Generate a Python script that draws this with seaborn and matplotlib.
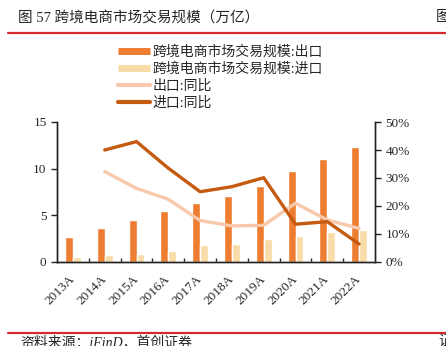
import numpy as np
import pandas as pd
import matplotlib
matplotlib.use("Agg")
import matplotlib.pyplot as plt
from matplotlib.lines import Line2D
from matplotlib.ticker import FixedLocator, FuncFormatter
import seaborn as sns

# ---- data ----
years = ["2013A", "2014A", "2015A", "2016A", "2017A",
         "2018A", "2019A", "2020A", "2021A", "2022A"]
export_scale = [2.7, 3.6, 4.5, 5.5, 6.3, 7.1, 8.1, 9.7, 11.0, 12.3]   # 万亿
import_scale = [0.5, 0.7, 0.9, 1.2, 1.8, 1.9, 2.5, 2.8, 3.2, 3.4]     # 万亿
export_yoy = [np.nan, 32.3, 26.3, 22.4, 14.8, 12.9, 13.1, 21.0, 15.0, 12.0]  # %
import_yoy = [np.nan, 40.0, 43.0, 33.5, 25.1, 26.9, 30.1, 13.5, 14.4, 6.4]   # %

bar_names = ["跨境电商市场交易规模:出口", "跨境电商市场交易规模:进口"]
line_names = ["出口:同比", "进口:同比"]

C_EXP_BAR = "#ED7D31"
C_IMP_BAR = "#F8DCA8"
C_EXP_LINE = "#F8C8AA"
C_IMP_LINE = "#C55A11"
C_RED = "#D42A2F"

bars = pd.DataFrame({
    "year": years * 2,
    "value": export_scale + import_scale,
    "series": [bar_names[0]] * len(years) + [bar_names[1]] * len(years),
})
lines = pd.DataFrame({
    "pos": list(range(len(years))) * 2,
    "value": export_yoy + import_yoy,
    "series": [line_names[0]] * len(years) + [line_names[1]] * len(years),
}).dropna()

sns.set_style("ticks")
plt.rcParams["font.family"] = ["Liberation Serif", "Noto Sans CJK SC"]
plt.rcParams["axes.unicode_minus"] = False

fig = plt.figure(figsize=(4.46, 3.46), dpi=100)
ax = fig.add_axes([57 / 446, 1 - 262 / 346, (375 - 57) / 446, 140 / 346])

sns.barplot(data=bars, x="year", y="value", hue="series", order=years,
            hue_order=bar_names, palette=[C_EXP_BAR, C_IMP_BAR],
            width=0.5, gap=0, saturation=1, legend=False, ax=ax)

ax2 = ax.twinx()
sns.lineplot(data=lines, x="pos", y="value", hue="series", hue_order=line_names,
             palette=[C_EXP_LINE, C_IMP_LINE], linewidth=2.4, legend=False,
             ax=ax2)

ax.set_xlim(-0.5, len(years) - 0.5)
ax.set_ylim(0, 15)
ax2.set_ylim(0, 50)
ax.set_yticks([0, 5, 10, 15])
ax2.set_yticks(range(0, 51, 10))
ax2.yaxis.set_major_formatter(FuncFormatter(lambda v, p: f"{int(v)}%"))

ax.set_xlabel("")
ax.set_ylabel("")
ax2.set_xlabel("")
ax2.set_ylabel("")

ax.set_xticks(range(len(years)))
ax.set_xticklabels(years, rotation=45, ha="right", va="center",
                   rotation_mode="anchor")
ax.xaxis.set_minor_locator(FixedLocator(np.arange(0.5, len(years) - 0.5, 1)))
ax.tick_params(axis="x", which="major", length=0, pad=11, labelsize=9.5)
ax.tick_params(axis="x", which="minor", direction="in", length=3, width=1,
               color="#333333")
ax.tick_params(axis="y", direction="out", length=4, width=1, labelsize=9.5,
               color="#222222")
ax2.tick_params(axis="y", direction="out", length=4, width=1, labelsize=9.5,
                color="#222222")

for a in (ax, ax2):
    a.spines["top"].set_visible(False)
    for s in ("left", "right", "bottom"):
        a.spines[s].set_color("#222222")
        a.spines[s].set_linewidth(1)
    a.grid(False)

# legend
handles = [
    Line2D([], [], color=C_EXP_BAR, lw=5, solid_capstyle="butt"),
    Line2D([], [], color=C_IMP_BAR, lw=5, solid_capstyle="butt"),
    Line2D([], [], color=C_EXP_LINE, lw=3, solid_capstyle="round"),
    Line2D([], [], color=C_IMP_LINE, lw=3, solid_capstyle="round"),
]
fig.legend(handles, bar_names + line_names, loc="upper left",
           bbox_to_anchor=(118 / 446, 1 - 45 / 346), frameon=False,
           fontsize=10, handlelength=2.3, handletextpad=0.2,
           labelspacing=0.27, borderpad=0, borderaxespad=0)

# header and footer
fig.text(18 / 446, 1 - 18 / 346, "图 57 跨境电商市场交易规模（万亿）",
         fontsize=10.5, va="center", ha="left")
fig.text(436 / 446, 1 - 18 / 346, "图", fontsize=10.5, va="center", ha="left")
fig.add_artist(Line2D([8 / 446, 1.0], [1 - 33 / 346] * 2, color=C_RED,
                      lw=1.6, transform=fig.transFigure))
fig.add_artist(Line2D([8 / 446, 1.0], [1 - 333 / 346] * 2, color=C_RED,
                      lw=1.6, transform=fig.transFigure))
fig.text(20 / 446, 1 - 335 / 346, "资料来源：iFinD，首创证券", fontsize=10,
         style="italic", va="top", ha="left")
fig.text(438 / 446, 1 - 335 / 346, "证", fontsize=10, style="italic",
         va="top", ha="left")

fig.savefig("out.png", dpi=100)
